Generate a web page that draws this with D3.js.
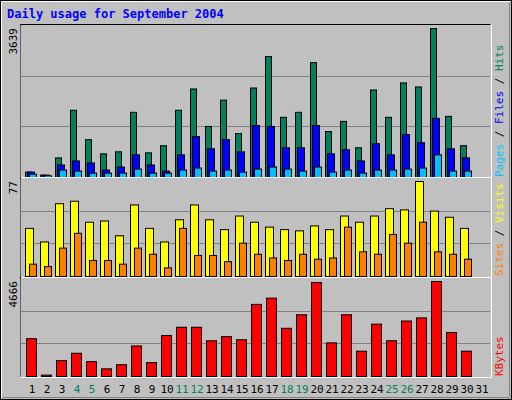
<!DOCTYPE html>
<html><head><meta charset="utf-8">
<script src="https://cdn.jsdelivr.net/npm/d3@7"></script>
<style>body{margin:0;background:#fff}</style>
</head><body>
<div id="chart"></div>
<script>
const days = d3.range(1, 32);
const weekends = [4, 5, 11, 12, 18, 19, 25, 26];
const hits = [132,58,479,1642,924,578,627,1592,602,776,1642,2162,1246,1889,1073,2186,2954,1469,1592,2805,1122,1370,726,2137,1469,2310,2211,3639,1493,776];
const files = [132,58,305,404,355,182,256,553,305,157,553,998,701,924,627,1270,1246,726,726,1270,578,677,404,825,553,1048,850,1444,701,479];
const pages = [82,41,182,157,107,107,107,206,107,107,182,231,157,182,132,206,256,206,157,256,132,182,107,182,182,206,231,553,157,157];
const visits = [39,28,59,61,44,45,33,58,39,28,46,58,46,38,49,44,40,38,37,41,38,49,44,49,55,54,77,53,48,39];
const sites = [10,8,23,35,13,13,10,23,18,7,39,17,17,12,27,18,15,13,18,14,15,40,20,18,34,27,44,20,18,14];
const kbytes = [1856,68,783,1141,732,375,579,1499,681,2010,2418,2418,1754,1958,1805,3542,3849,2367,3031,4615,1652,3031,1243,2572,1754,2725,2878,4666,2163,1243];

const W = 512, H = 400;
const svg = d3.select("#chart").append("svg").attr("width", W).attr("height", H)
    .style("font-family", "'DejaVu Sans Mono', monospace");

// frame
svg.append("rect").attr("x", 0.5).attr("y", 0.5).attr("width", W - 1).attr("height", H - 1)
    .attr("fill", "#c0c0c0").attr("stroke", "#000");
svg.append("path").attr("d", "M1.5,398.5V1.5H510.5").attr("fill", "none").attr("stroke", "#fff");
svg.append("path").attr("d", "M2.5,397.5H509.5V2.5").attr("fill", "none").attr("stroke", "#808080");

svg.append("text").attr("x", 7).attr("y", 18).attr("fill", "#0000ff")
    .style("font-weight", "bold").style("font-size", "12px")
    .text("Daily usage for September 2004");

const x = d3.scaleLinear().domain([1, 32]).range([25, 25 + 31 * 15]);

function panel(top, bottom, max, label, series, rlabels) {
    svg.append("rect").attr("x", 20.5).attr("y", top + 0.5).attr("width", 470).attr("height", bottom - top)
        .attr("fill", "#c0c0c0");
    const y = d3.scaleLinear().domain([0, max]).range([bottom, top + 3]);
    const h = bottom - top;
    [1 / 3, 2 / 3].forEach(f => {
        const gy = Math.round(top + h * f) + 0.5;
        svg.append("line").attr("x1", 21).attr("x2", 490).attr("y1", gy).attr("y2", gy)
            .attr("stroke", "#808080");
    });
    series.forEach(s => {
        svg.append("g").selectAll("rect").data(s.data).enter().append("rect")
            .attr("x", (d, i) => x(i + 1) + s.off + 0.5)
            .attr("y", d => y(d) + 0.5)
            .attr("width", s.w)
            .attr("height", d => Math.max(0, bottom - y(d)))
            .attr("fill", s.color).attr("stroke", "#000");
    });
    svg.append("text").attr("transform", `translate(17,${top + 3}) rotate(-90)`)
        .attr("text-anchor", "end").style("font-size", "11px").attr("fill", "#000").text(max);
    const t = svg.append("text").attr("transform", `translate(503,${bottom}) rotate(-90)`)
        .style("font-size", "11px");
    rlabels.forEach((r, i) => {
        if (i > 0) t.append("tspan").attr("fill", "#000").text(" / ");
        t.append("tspan").attr("fill", r.color).text(r.text);
    });
}

// bevel lines around the plot area
svg.append("path").attr("d", "M20.5,376.5V24.5H490.5").attr("fill", "none").attr("stroke", "#000");
svg.append("path").attr("d", "M20.5,377.5H491.5V24.5").attr("fill", "none").attr("stroke", "#fff");

panel(25, 177, 3639, "Pages", [
    { data: hits, off: 0, w: 6, color: "#00805c" },
    { data: files, off: 2, w: 7, color: "#0000ff" },
    { data: pages, off: 4, w: 7, color: "#00c0ff" }
], [{ text: "Pages", color: "#00c0ff" }, { text: "Files", color: "#0000ff" }, { text: "Hits", color: "#00805c" }]);

panel(178, 276, 77, "Sites", [
    { data: visits, off: 0, w: 8, color: "#ffff00" },
    { data: sites, off: 4, w: 7, color: "#ff8000" }
], [{ text: "Sites", color: "#ff8000" }, { text: "Visits", color: "#ffff00" }]);

panel(278, 376, 4666, "KBytes", [
    { data: kbytes, off: 1, w: 10, color: "#ff0000" }
], [{ text: "KBytes", color: "#ff0000" }]);

svg.append("line").attr("x1", 21).attr("x2", 491).attr("y1", 177.5).attr("y2", 177.5).attr("stroke", "#fff");
svg.append("line").attr("x1", 21).attr("x2", 491).attr("y1", 277.5).attr("y2", 277.5).attr("stroke", "#fff");

svg.append("g").selectAll("text").data(days).enter().append("text")
    .attr("x", d => x(d) + 7).attr("y", 393).attr("text-anchor", "middle")
    .style("font-size", "11px")
    .attr("fill", d => weekends.includes(d) ? "#00805c" : "#000")
    .text(d => d);
</script>
</body></html>
